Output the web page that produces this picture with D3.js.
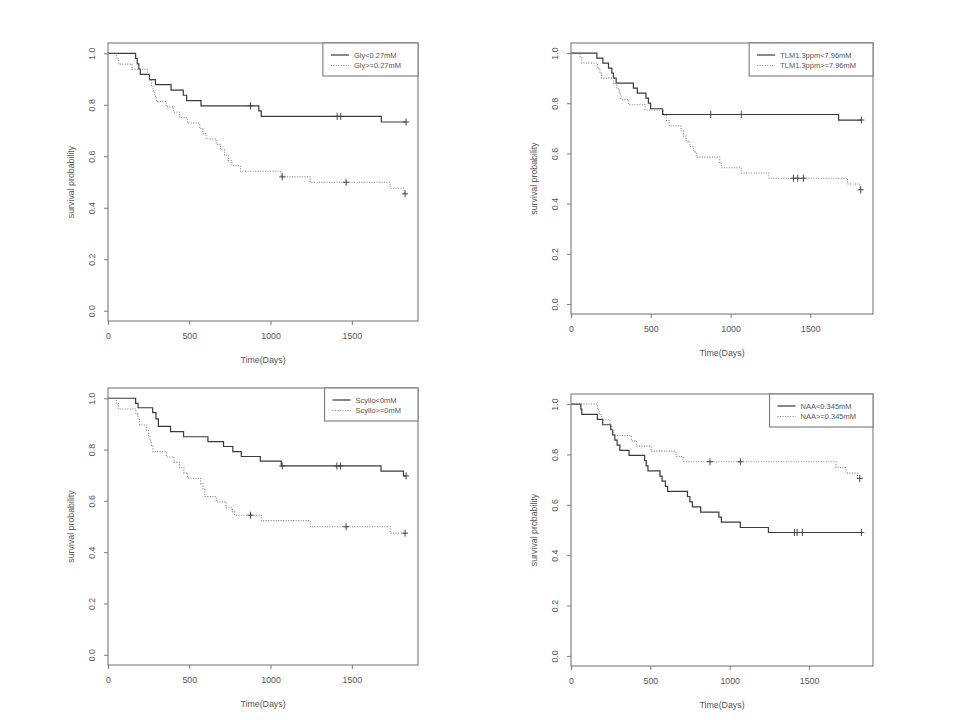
<!DOCTYPE html>
<html>
<head>
<meta charset="utf-8">
<script src="https://cdn.jsdelivr.net/npm/d3@7"></script>
<style>
  body { margin: 0; background: #fff; }
  text { font-family: "Liberation Sans", Arial, sans-serif; fill: #555; }
</style>
</head>
<body>
<script>
// tick labels shared by all four plots
var xTicks = [0, 500, 1000, 1500];
var yTicks = [0, 0.2, 0.4, 0.6, 0.8, 1.0];

// Gly
var glyLowT = [170, 180, 190, 199, 255, 292, 388, 463, 484, 572, 928, 943, 1682];
var glyLowS = [0.980, 0.959, 0.939, 0.918, 0.898, 0.878, 0.857, 0.837, 0.816, 0.796, 0.776, 0.755, 0.733];
var glyLowCens = [877, 1410, 1432, 1834];
var glyHighT = [51, 66, 148, 242, 256, 267, 277, 287, 297, 359, 404, 441, 490, 564, 584, 603, 666, 692, 717, 740, 762, 815, 1066, 1244, 1736, 1822];
var glyHighS = [0.979, 0.958, 0.938, 0.917, 0.896, 0.875, 0.854, 0.833, 0.813, 0.792, 0.771, 0.750, 0.729, 0.708, 0.688, 0.667, 0.646, 0.625, 0.604, 0.583, 0.563, 0.542, 0.520, 0.499, 0.476, 0.454];
var glyHighCens = [1072, 1465, 1828];

// TLM1.3ppm
var tlmLowT = [162, 200, 235, 256, 266, 283, 391, 416, 470, 485, 499, 574, 1677];
var tlmLowS = [0.980, 0.960, 0.940, 0.920, 0.900, 0.880, 0.860, 0.840, 0.820, 0.800, 0.778, 0.755, 0.733];
var tlmLowCens = [876, 1067, 1820];
var tlmHighT = [58, 68, 166, 181, 191, 266, 287, 303, 313, 360, 464, 580, 599, 616, 690, 705, 722, 745, 770, 785, 932, 942, 1067, 1240, 1733, 1810];
var tlmHighS = [0.980, 0.960, 0.940, 0.920, 0.900, 0.880, 0.857, 0.836, 0.815, 0.794, 0.773, 0.752, 0.731, 0.710, 0.690, 0.669, 0.648, 0.627, 0.606, 0.585, 0.564, 0.543, 0.522, 0.501, 0.478, 0.455];
var tlmHighCens = [1394, 1421, 1456, 1816];

// Scyllo
var scyLowT = [170, 185, 275, 295, 310, 385, 465, 615, 711, 768, 820, 937, 1066, 1680, 1818];
var scyLowS = [0.980, 0.963, 0.944, 0.920, 0.890, 0.870, 0.850, 0.831, 0.812, 0.792, 0.773, 0.755, 0.736, 0.716, 0.697];
var scyLowCens = [1072, 1408, 1430, 1834];
var scyHighT = [51, 64, 172, 185, 195, 238, 250, 258, 268, 277, 359, 406, 440, 467, 490, 570, 584, 596, 666, 727, 765, 780, 943, 1244, 1736];
var scyHighS = [0.979, 0.958, 0.938, 0.917, 0.896, 0.875, 0.854, 0.833, 0.813, 0.792, 0.771, 0.750, 0.729, 0.708, 0.688, 0.667, 0.646, 0.617, 0.596, 0.573, 0.558, 0.544, 0.523, 0.499, 0.474];
var scyHighCens = [877, 1465, 1828];

// NAA
var naaLowT = [62, 68, 166, 200, 250, 262, 276, 291, 308, 366, 464, 474, 485, 561, 574, 595, 609, 734, 749, 765, 817, 932, 948, 1067, 1244];
var naaLowS = [0.980, 0.959, 0.939, 0.918, 0.898, 0.878, 0.857, 0.837, 0.816, 0.796, 0.776, 0.755, 0.735, 0.714, 0.694, 0.673, 0.653, 0.633, 0.612, 0.592, 0.571, 0.551, 0.531, 0.510, 0.490];
var naaLowCens = [1408, 1425, 1458, 1830];
var naaHighT = [166, 178, 193, 245, 256, 266, 380, 412, 505, 661, 707, 1670, 1733, 1806];
var naaHighS = [0.979, 0.958, 0.938, 0.917, 0.896, 0.875, 0.854, 0.833, 0.813, 0.792, 0.771, 0.748, 0.726, 0.705];
var naaHighCens = [876, 1067, 1820];

var panels = [
  { box: [108, 43, 418, 321], names: ["Gly<0.27mM", "Gly>=0.27mM"],
    curves: [[glyLowT, glyLowS, glyLowCens], [glyHighT, glyHighS, glyHighCens]] },
  { box: [571, 43, 873, 314], names: ["TLM1.3ppm<7.96mM", "TLM1.3ppm>=7.96mM"],
    curves: [[tlmLowT, tlmLowS, tlmLowCens], [tlmHighT, tlmHighS, tlmHighCens]] },
  { box: [108, 388, 418, 665], names: ["Scyllo<0mM", "Scyllo>=0mM"],
    curves: [[scyLowT, scyLowS, scyLowCens], [scyHighT, scyHighS, scyHighCens]] },
  { box: [571, 394, 873, 666], names: ["NAA<0.345mM", "NAA>=0.345mM"],
    curves: [[naaLowT, naaLowS, naaLowCens], [naaHighT, naaHighS, naaHighCens]] }
];

var styles = [
  { stroke: "#3a3a3a", dash: null, width: 1.2 },
  { stroke: "#808080", dash: "1,1.5", width: 1.1 }
];

var svg = d3.select("body").append("svg")
    .attr("width", 960)
    .attr("height", 720);

// value of the step curve at time t
function survAt(T, S, t) {
  var s = 1;
  for (var i = 0; i < T.length; i++) { if (T[i] <= t) s = S[i]; }
  return s;
}

panels.forEach(function(p) {
  var left = p.box[0], top = p.box[1], right = p.box[2], bottom = p.box[3];
  var tmax = d3.max(p.curves, function(c) { return d3.max(c[0].concat(c[2])); });

  var x = d3.scaleLinear().domain([0, tmax * 1.04]).range([left, right]);
  var y = d3.scaleLinear().domain([-0.04, 1.04]).range([bottom, top]);

  var g = svg.append("g");

  // curves
  p.curves.forEach(function(c, i) {
    var T = c[0], S = c[1], C = c[2];
    var pts = [[0, 1]];
    T.forEach(function(t, k) { pts.push([t, S[k]]); });
    var tEnd = d3.max(T.concat(C));
    pts.push([tEnd, survAt(T, S, tEnd)]);

    var line = d3.line()
        .x(function(d) { return x(d[0]); })
        .y(function(d) { return y(d[1]); })
        .curve(d3.curveStepAfter);

    g.append("path")
        .datum(pts)
        .attr("d", line)
        .attr("fill", "none")
        .attr("stroke", styles[i].stroke)
        .attr("stroke-width", styles[i].width)
        .attr("stroke-dasharray", styles[i].dash);

    // censoring marks
    g.selectAll(".cens" + i)
        .data(C)
        .enter().append("path")
        .attr("d", function(t) {
          var cx = x(t), cy = y(survAt(T, S, t));
          return "M" + (cx - 3) + "," + cy + "H" + (cx + 3) + "M" + cx + "," + (cy - 3.5) + "V" + (cy + 3.5);
        })
        .attr("stroke", "#444")
        .attr("stroke-width", 1);
  });

  // frame
  g.append("rect")
      .attr("x", left).attr("y", top)
      .attr("width", right - left).attr("height", bottom - top)
      .attr("fill", "none")
      .attr("stroke", "#7a7a7a")
      .attr("stroke-width", 1.1);

  // x axis
  var xa = g.append("g")
      .attr("transform", "translate(0," + bottom + ")")
      .call(d3.axisBottom(x).tickValues(xTicks).tickFormat(d3.format("d")).tickSize(4).tickSizeOuter(0).tickPadding(8));
  xa.select(".domain").remove();
  xa.selectAll("line").attr("stroke", "#7a7a7a");
  xa.selectAll("text").attr("font-size", "8.8px").attr("fill", "#555")
      .style("font-family", '"Liberation Sans", Arial, sans-serif');

  // y axis
  var ya = g.append("g")
      .attr("transform", "translate(" + left + ",0)")
      .call(d3.axisLeft(y).tickValues(yTicks).tickFormat(d3.format(".1f")).tickSize(4).tickSizeOuter(0));
  ya.select(".domain").remove();
  ya.selectAll("line").attr("stroke", "#7a7a7a");
  ya.selectAll("text")
      .attr("x", null).attr("dy", "0.35em")
      .attr("transform", "translate(-16,0) rotate(-90)")
      .attr("text-anchor", "middle")
      .attr("font-size", "8.8px").attr("fill", "#555")
      .style("font-family", '"Liberation Sans", Arial, sans-serif');

  // axis titles
  g.append("text")
      .attr("x", (left + right) / 2).attr("y", bottom + 39)
      .attr("dy", "0.35em")
      .attr("text-anchor", "middle")
      .attr("font-size", "8.8px")
      .text("Time(Days)");
  g.append("text")
      .attr("transform", "translate(" + (left - 37) + "," + ((top + bottom) / 2) + ") rotate(-90)")
      .attr("dy", "0.35em")
      .attr("text-anchor", "middle")
      .attr("font-size", "8.8px")
      .text("survival probability");

  // legend, top right corner
  var lg = g.append("g");
  var labels = lg.selectAll("text")
      .data(p.names)
      .enter().append("text")
      .attr("y", function(d, i) { return top + 12 + i * 10.5; })
      .attr("dy", "0.35em")
      .attr("font-size", "7.5px")
      .text(function(d) { return d; });
  var tw = d3.max(labels.nodes(), function(n) { return n.getComputedTextLength(); });
  var lx = right - 17 - tw - 31;
  labels.attr("x", lx + 31);
  lg.insert("rect", "text")
      .attr("x", lx).attr("y", top)
      .attr("width", right - lx).attr("height", 33)
      .attr("fill", "#fff")
      .attr("stroke", "#7a7a7a")
      .attr("stroke-width", 1.1);
  p.names.forEach(function(d, i) {
    lg.append("line")
        .attr("x1", lx + 8).attr("x2", lx + 26)
        .attr("y1", top + 12 + i * 10.5).attr("y2", top + 12 + i * 10.5)
        .attr("stroke", styles[i].stroke)
        .attr("stroke-width", styles[i].width)
        .attr("stroke-dasharray", styles[i].dash);
  });
});
</script>
</body>
</html>
